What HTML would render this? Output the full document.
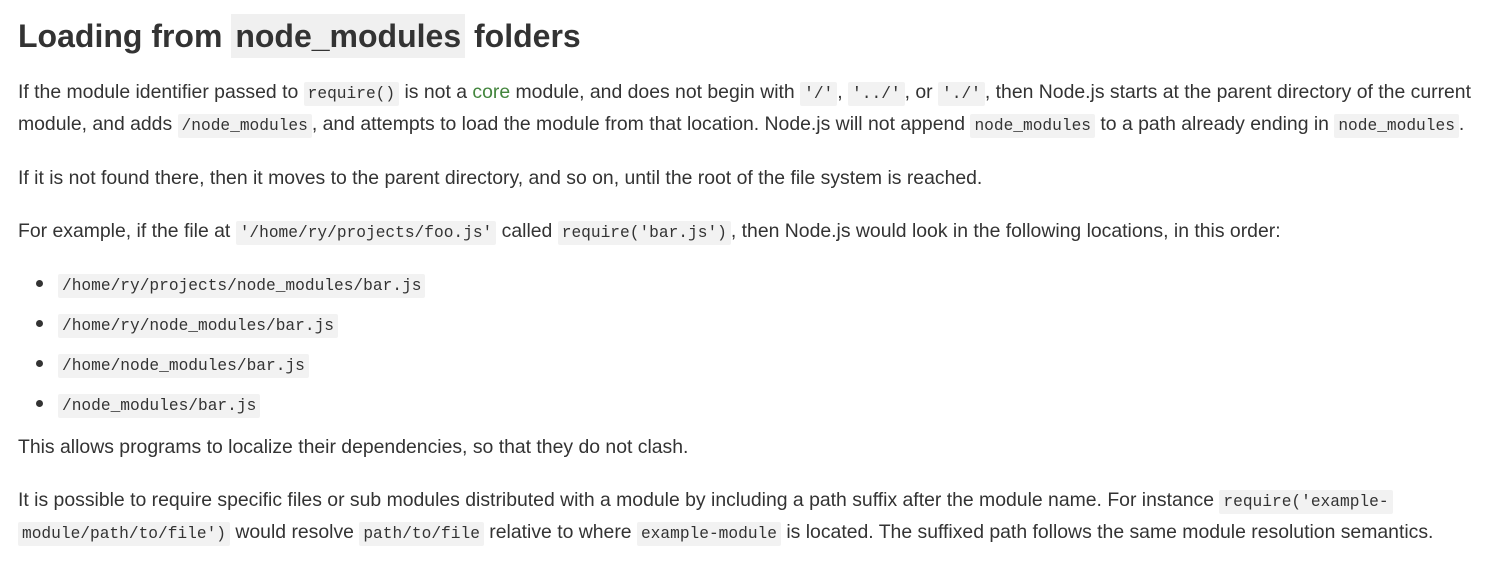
<!DOCTYPE html>
<html><head><meta charset="utf-8"><style>
html,body{margin:0;padding:0;background:#fff;width:1497px;height:562px;overflow:hidden}
body{font-family:"Liberation Sans",sans-serif;color:#333;position:relative}
.l{position:absolute;left:18px;white-space:nowrap;font-size:19.4px;line-height:32px;height:32px}
code{font-family:"Liberation Mono",monospace;font-size:16.2px;background:#f2f2f2;padding:3px 4px;border-radius:2px;color:#333}
h1{position:absolute;left:18px;top:10px;margin:0;font-size:32px;font-weight:bold;color:#333;line-height:52px;white-space:nowrap}
h1 span{background:#f0f0f0;padding:4px 4px;font-weight:bold}
.g{color:#43853d}
.b{position:absolute;left:36px;width:7px;height:7px;border-radius:50%;background:#333}
</style></head><body>
<h1>Loading from <span>node_modules</span> folders</h1>
<div class="l" style="top:76px">If the module identifier passed to <code>require()</code> is not a <span class="g">core</span> module, and does not begin with <code>'/'</code>, <code>'../'</code>, or <code>'./'</code>, then Node.js starts at the parent directory of the current</div>
<div class="l" style="top:108px">module, and adds <code>/node_modules</code>, and attempts to load the module from that location. Node.js will not append <code>node_modules</code> to a path already ending in <code>node_modules</code>.</div>
<div class="l" style="top:162px">If it is not found there, then it moves to the parent directory, and so on, until the root of the file system is reached.</div>
<div class="l" style="top:215px">For example, if the file at <code>'/home/ry/projects/foo.js'</code> called <code>require('bar.js')</code>, then Node.js would look in the following locations, in this order:</div>
<div class="b" style="top:280px"></div><div class="l" style="top:268px;left:58px"><code>/home/ry/projects/node_modules/bar.js</code></div>
<div class="b" style="top:320px"></div><div class="l" style="top:308px;left:58px"><code>/home/ry/node_modules/bar.js</code></div>
<div class="b" style="top:360px"></div><div class="l" style="top:348px;left:58px"><code>/home/node_modules/bar.js</code></div>
<div class="b" style="top:400px"></div><div class="l" style="top:388px;left:58px"><code>/node_modules/bar.js</code></div>
<div class="l" style="top:431px">This allows programs to localize their dependencies, so that they do not clash.</div>
<div class="l" style="top:484px">It is possible to require specific files or sub modules distributed with a module by including a path suffix after the module name. For instance <code>require('example-</code></div>
<div class="l" style="top:516px"><code>module/path/to/file')</code> would resolve <code>path/to/file</code> relative to where <code>example-module</code> is located. The suffixed path follows the same module resolution semantics.</div>
</body></html>
